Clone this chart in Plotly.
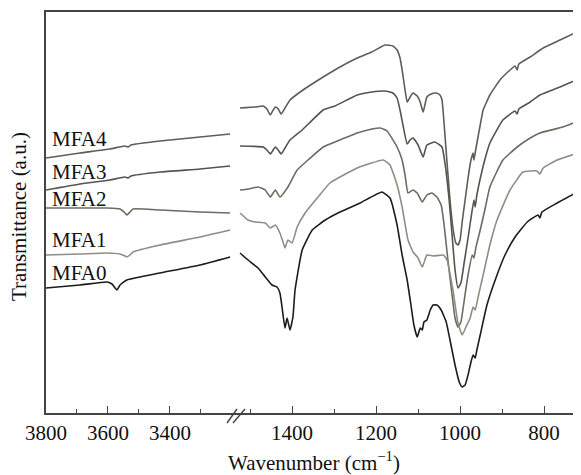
import plotly.graph_objects as go

# ---------------- data (wavenumber in cm-1, transmittance in arbitrary units) -------------
# Left segment (3800 - 3200 cm-1)
wn_left_a = [3800, 3690, 3594, 3545, 3535, 3526, 3432, 3303, 3206]
mfa4_left = [255, 260, 264, 267, 266, 268, 272, 276, 279]
mfa3_left = [223, 229, 233, 236, 235, 237, 241, 244, 247]

wn_left_b = [3800, 3690, 3603, 3561, 3545, 3539, 3529, 3519, 3432, 3303, 3206]
mfa2_left = [205, 205, 205, 204, 200, 198, 201, 204, 203, 201, 200]
mfa1_left = [158, 159, 160, 159, 157, 156, 158, 161, 168, 176, 183]

wn_left_c = [3800, 3690, 3603, 3587, 3577, 3571, 3561, 3539, 3432, 3303, 3206]
mfa0_left = [125, 128, 131, 129, 125, 123, 128, 133, 140, 148, 156]

# Right segment (1525 - 712 cm-1)
wn_mfa4 = [1524, 1488, 1469, 1460, 1452, 1445, 1440, 1433, 1426, 1417, 1405, 1374, 1326, 1286,
           1245, 1210, 1179, 1160, 1150, 1143, 1138, 1131, 1126, 1119, 1112, 1102, 1095, 1088,
           1079, 1069, 1057, 1048, 1043, 1040, 1031, 1024, 1017, 1010, 1005, 1000, 995, 988,
           981, 974, 969, 967, 962, 952, 945, 929, 905, 881, 869, 864, 860, 833, 802, 762, 712]
mfa4_right = [305, 306, 307, 304, 298, 303, 306, 304, 299, 305, 313, 323, 336, 346,
              355, 361, 368, 367, 363, 355, 343, 323, 311, 316, 320, 317, 311, 301,
              316, 319, 320, 318, 313, 300, 250, 213, 185, 170, 168, 173, 191, 213,
              235, 253, 260, 253, 265, 288, 303, 318, 333, 343, 347, 343, 349, 356, 365, 373, 383]

wn_mfa3 = [1524, 1469, 1460, 1452, 1445, 1440, 1433, 1426, 1417, 1405, 1376, 1326, 1298, 1245,
           1210, 1179, 1160, 1150, 1143, 1136, 1126, 1119, 1112, 1100, 1088, 1079, 1060, 1043,
           1036, 1026, 1019, 1012, 1005, 998, 990, 981, 974, 967, 964, 960, 950, 938, 929,
           898, 869, 864, 860, 833, 810, 762, 712]
mfa3_right = [267, 266, 263, 259, 263, 266, 263, 259, 265, 273, 283, 303, 307, 318,
              321, 322, 320, 315, 303, 288, 269, 273, 275, 268, 256, 268, 271, 266,
              250, 213, 178, 143, 125, 130, 151, 175, 195, 213, 206, 218, 238, 258, 270,
              293, 302, 299, 304, 311, 318, 326, 335]

wn_mfa2 = [1524, 1505, 1481, 1464, 1452, 1440, 1429, 1410, 1388, 1362, 1326, 1298, 1245, 1210,
           1190, 1174, 1150, 1138, 1131, 1124, 1112, 1102, 1090, 1079, 1067, 1055, 1045, 1038,
           1029, 1019, 1012, 1005, 998, 990, 981, 971, 967, 962, 952, 940, 929, 898, 864,
           833, 810, 755, 712]
mfa2_right = [223, 224, 226, 223, 216, 223, 216, 226, 243, 253, 266, 271, 280, 284,
              285, 282, 266, 253, 238, 220, 223, 220, 211, 218, 220, 216, 208, 188,
              153, 118, 95, 86, 91, 113, 138, 158, 155, 166, 183, 205, 226, 253, 266,
              275, 280, 286, 293]

wn_mfa1 = [1524, 1505, 1488, 1464, 1452, 1440, 1429, 1421, 1417, 1410, 1400, 1388, 1369, 1338,
           1310, 1245, 1183, 1167, 1150, 1138, 1124, 1112, 1100, 1090, 1079, 1064, 1040, 1031,
           1017, 1005, 995, 986, 976, 969, 964, 957, 945, 929, 912, 881, 850, 817, 810, 802,
           769, 712]
mfa1_right = [200, 193, 191, 190, 185, 188, 180, 170, 165, 173, 170, 186, 200, 216,
              230, 245, 253, 248, 228, 206, 173, 161, 155, 146, 158, 157, 158, 153,
              123, 90, 78, 86, 95, 106, 103, 116, 138, 168, 193, 223, 241, 242, 239, 245,
              253, 261]

wn_mfa0 = [1524, 1505, 1481, 1464, 1448, 1436, 1429, 1424, 1417, 1412, 1405, 1398, 1393, 1376,
           1352, 1321, 1286, 1238, 1186, 1167, 1150, 1138, 1126, 1117, 1110, 1102, 1095, 1090,
           1086, 1079, 1071, 1064, 1055, 1045, 1033, 1024, 1012, 1002, 995, 988, 981, 974,
           969, 964, 960, 952, 936, 912, 893, 869, 840, 814, 810, 805, 769, 712]
mfa0_right = [160, 153, 145, 136, 128, 126, 120, 106, 85, 95, 83, 96, 123, 163,
              183, 193, 201, 210, 221, 215, 188, 158, 133, 108, 88, 76, 85, 83,
              91, 93, 103, 108, 108, 103, 91, 73, 48, 31, 26, 28, 38, 51,
              58, 55, 63, 78, 108, 138, 158, 176, 191, 198, 195, 201, 210, 223]

sample_names = ["MFA4", "MFA3", "MFA2", "MFA1", "MFA0"]
label_y = [274, 241, 214, 173, 140]

series = [
    ("MFA4", wn_left_a, mfa4_left, wn_mfa4, mfa4_right, "#5e5e56"),
    ("MFA3", wn_left_a, mfa3_left, wn_mfa3, mfa3_right, "#55554e"),
    ("MFA2", wn_left_b, mfa2_left, wn_mfa2, mfa2_right, "#6c6c62"),
    ("MFA1", wn_left_b, mfa1_left, wn_mfa1, mfa1_right, "#8e8e84"),
    ("MFA0", wn_left_c, mfa0_left, wn_mfa0, mfa0_right, "#1c1c1c"),
]

FONT = "Liberation Serif"
FS = 21
AX = "#444444"
LW = 1.6

fig = go.Figure()
for name, wl, tl, wr, tr, col in series:
    fig.add_trace(go.Scatter(x=wl, y=tl, xaxis="x", yaxis="y", mode="lines", name=name,
                             line=dict(color=col, width=LW, shape="spline", smoothing=0.4),
                             showlegend=False))
    fig.add_trace(go.Scatter(x=wr, y=tr, xaxis="x2", yaxis="y", mode="lines", name=name,
                             line=dict(color=col, width=LW, shape="spline", smoothing=0.4),
                             showlegend=False))

axis_common = dict(showline=True, linecolor=AX, linewidth=1.5, mirror=True,
                   showgrid=False, zeroline=False, ticks="inside", ticklen=7,
                   tickwidth=1.3, tickcolor=AX,
                   tickfont=dict(family=FONT, size=FS, color="#111"))

# page body has an 8px default margin; the figure is sized to fit the 581x475 window
W, H = 573, 467
L, T = 38, 4
PW, PH = 535, 401
split = (235 - 46) / PW

fig.update_layout(
    width=W, height=H,
    margin=dict(l=L, r=W - L - PW, t=T, b=H - T - PH, autoexpand=False),
    paper_bgcolor="white", plot_bgcolor="white",
    xaxis=dict(domain=[0, split], range=[3800, 3190], tickvals=[3800, 3600, 3400],
               minor=dict(tickvals=[3700, 3500, 3300], ticks="inside", ticklen=4,
                          tickcolor=AX, tickwidth=1.2, showgrid=False),
               anchor="y", **axis_common),
    xaxis2=dict(domain=[split, 1], range=[1536, 712], tickvals=[1400, 1200, 1000, 800],
                minor=dict(tickvals=[1500, 1300, 1100, 900], ticks="inside", ticklen=4,
                           tickcolor=AX, tickwidth=1.2, showgrid=False),
                anchor="y", **axis_common),
    yaxis=dict(range=[0, 401], showticklabels=False, ticks="", showline=True,
               linecolor=AX, linewidth=1.5, mirror=False, showgrid=False, zeroline=False),
)

# sample labels
for name, yv in zip(sample_names, label_y):
    fig.add_annotation(x=3787, y=yv, xref="x", yref="y", text=name, showarrow=False,
                       xanchor="left", yanchor="middle",
                       font=dict(family=FONT, size=FS, color="#111"))


def px(xp):
    return (xp - 46) / PW


def py(yp):
    return (413 - yp) / PH


# axis titles
fig.add_annotation(x=0.5, y=py(461), xref="paper", yref="paper",
                   text="Wavenumber (cm<sup>−1</sup>)", showarrow=False,
                   xanchor="center", yanchor="middle",
                   font=dict(family=FONT, size=FS, color="#111"))
fig.add_annotation(x=px(19), y=py(217), xref="paper", yref="paper",
                   text="Transmittance (a.u.)", showarrow=False, textangle=-90,
                   xanchor="center", yanchor="middle",
                   font=dict(family=FONT, size=FS, color="#111"))

# axis break marks
for x0, x1 in [(227, 237), (233, 245)]:
    fig.add_shape(type="line", xref="paper", yref="paper",
                  x0=px(x0), y0=py(423), x1=px(x1), y1=py(409),
                  line=dict(color=AX, width=1.4))

fig.write_html("out.html")
